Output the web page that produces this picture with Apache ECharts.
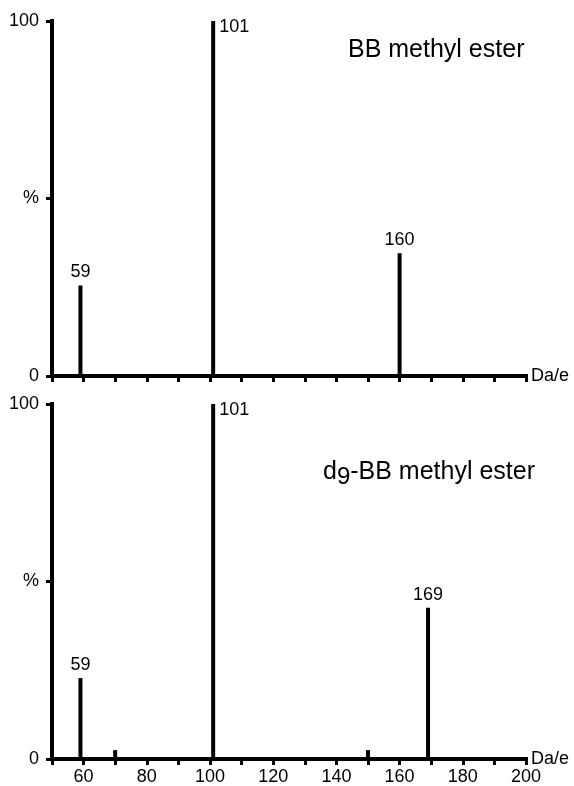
<!DOCTYPE html>
<html>
<head>
<meta charset="utf-8">
<script src="https://cdn.jsdelivr.net/npm/echarts@6/dist/echarts.min.js"></script>
<style>
  html, body { margin: 0; padding: 0; background: #fff; }
  #chart { width: 574px; height: 786px; }
</style>
</head>
<body>
<div id="chart"></div>
<script>
// Mass spectra: relative abundance (%) against mass (Da/e)
const massesTop = [59, 101, 160];
const abundTop = [25.5, 100, 34.6];
const labelsTop = ['59', '101', '160'];

const massesBottom = [59, 70, 101, 150, 169];
const abundBottom = [22.8, 2.5, 100, 2.5, 42.6];
const labelsBottom = ['59', '', '101', '', '169'];

const titleTop = 'BB methyl ester';
const titleBottomPre = 'd';
const titleBottomSub = '9';
const titleBottomPost = '-BB methyl ester';

const xMin = 50, xMax = 200, xStep = 10;
const xLabelValues = [60, 80, 100, 120, 140, 160, 180, 200];
const yTickText = { 0: '0', 50: '%', 100: '100' };

const FONT = '"Liberation Sans", Arial, Helvetica, sans-serif';
const INK = '#000';

function buildData(masses, vals, labels) {
  return masses.map((m, i) => {
    const item = { value: [m, vals[i]] };
    if (labels[i] === '101') {
      // the base peak is labelled beside its top
      item.label = { show: true, position: 'insideTopLeft', offset: [3, -8] };
    } else if (labels[i]) {
      item.label = { show: true, position: 'top', distance: 4 };
    } else {
      item.label = { show: false };
    }
    item.labelText = labels[i];
    return item;
  });
}

function xAxis(gridIndex, showLabels) {
  return {
    type: 'value', gridIndex, min: xMin, max: xMax, interval: xStep,
    name: 'Da/e', nameLocation: 'end', nameGap: 5,
    nameTextStyle: { color: INK, fontFamily: FONT, fontSize: 18, verticalAlign: 'middle', padding: [4, 0, 0, 0] },
    axisLine: { show: true, onZero: false, lineStyle: { color: INK, width: 4, cap: 'square' } },
    axisTick: { show: true, length: 6, lineStyle: { color: INK, width: 3 } },
    splitLine: { show: false },
    axisLabel: {
      show: showLabels, color: INK, fontFamily: FONT, fontSize: 18, margin: 9,
      formatter: v => (xLabelValues.indexOf(v) >= 0 ? String(v) : '')
    }
  };
}

function yAxis(gridIndex) {
  return {
    type: 'value', gridIndex, min: 0, max: 100, interval: 50,
    axisLine: { show: true, lineStyle: { color: INK, width: 4, cap: 'square' } },
    axisTick: { show: true, length: 6, lineStyle: { color: INK, width: 3 } },
    splitLine: { show: false },
    axisLabel: {
      color: INK, fontFamily: FONT, fontSize: 18, margin: 13,
      formatter: v => yTickText[v] || ''
    }
  };
}

function barSeries(idx, masses, vals, labels) {
  return {
    type: 'bar', xAxisIndex: idx, yAxisIndex: idx,
    barWidth: 4, barGap: '-100%',
    itemStyle: { color: INK },
    label: {
      color: INK, fontFamily: FONT, fontSize: 18,
      formatter: p => p.data.labelText
    },
    data: buildData(masses, vals, labels),
    silent: true
  };
}

const chart = echarts.init(document.getElementById('chart'), null, { renderer: 'canvas' });
chart.setOption({
  backgroundColor: '#fff',
  animation: false,
  grid: [
    { left: 52, right: 48, top: 21, height: 355, containLabel: false, outerBoundsMode: 'none' },
    { left: 52, right: 48, top: 404, height: 355, containLabel: false, outerBoundsMode: 'none' }
  ],
  xAxis: [xAxis(0, false), xAxis(1, true)],
  yAxis: [yAxis(0), yAxis(1)],
  series: [
    barSeries(0, massesTop, abundTop, labelsTop),
    barSeries(1, massesBottom, abundBottom, labelsBottom)
  ],
  graphic: [
    {
      type: 'text', left: 348, top: 38,
      style: { text: titleTop, font: '25px ' + FONT, fill: INK }
    },
    {
      type: 'text', left: 323, top: 455,
      style: {
        text: '{a|' + titleBottomPre + '}{s|' + titleBottomSub + '}{a|' + titleBottomPost + '}',
        rich: {
          a: { fontFamily: FONT, fontSize: 25, color: INK, lineHeight: 30 },
          s: { fontFamily: FONT, fontSize: 24, color: INK, lineHeight: 30, padding: [10, 0, 0, 0] }
        }
      }
    }
  ]
});
</script>
</body>
</html>
